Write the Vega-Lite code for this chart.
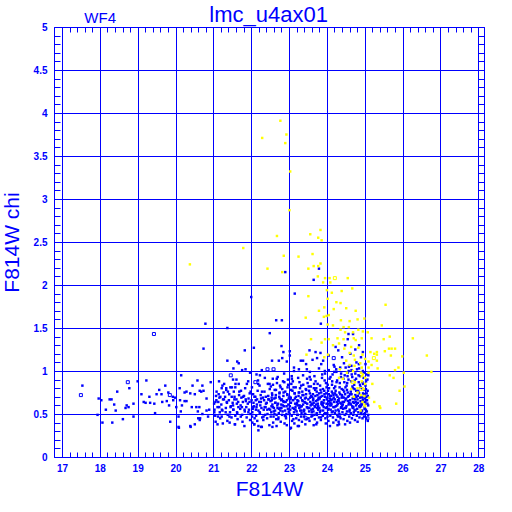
{
"$schema": "https://vega.github.io/schema/vega-lite/v6.json",
"width": 430, "height": 430,
"autosize": {"type": "none"},
"padding": {"left": 54, "top": 27, "right": 28, "bottom": 55},
"background": "white",
"config": {"view": {"stroke": null}},
"datasets": {
"blue": [
{"x":17.54,"y":0.83},{"x":20.79,"y":1.55},{"x":20.74,"y":1.26},{"x":18.78,"y":0.80},{"x":18.46,"y":0.76},{"x":17.97,"y":0.68},{"x":18.04,"y":0.66},{"x":18.26,"y":0.67},{"x":18.31,"y":0.67},{"x":18.16,"y":0.55},{"x":18.38,"y":0.61},{"x":18.42,"y":0.54},{"x":18.71,"y":0.60},{"x":18.76,"y":0.58},{"x":18.68,"y":0.57},{"x":18.89,"y":0.62},{"x":17.94,"y":0.49},{"x":18.07,"y":0.40},{"x":18.33,"y":0.40},{"x":18.61,"y":0.44},{"x":18.89,"y":0.47},{"x":19.00,"y":0.88},{"x":19.23,"y":0.89},{"x":19.10,"y":0.73},{"x":19.31,"y":0.70},{"x":19.16,"y":0.64},{"x":19.21,"y":0.63},{"x":19.33,"y":0.63},{"x":19.44,"y":0.62},{"x":19.50,"y":0.73},{"x":19.63,"y":0.73},{"x":19.57,"y":0.78},{"x":19.73,"y":0.83},{"x":19.81,"y":0.75},{"x":19.77,"y":0.65},{"x":19.65,"y":0.64},{"x":19.83,"y":0.60},{"x":19.46,"y":0.51},{"x":19.86,"y":0.41},{"x":19.93,"y":0.70},{"x":20.15,"y":0.95},{"x":19.94,"y":0.66},
{"x":20.11,"y":0.80},{"x":20.29,"y":0.76},{"x":20.24,"y":0.75},{"x":20.39,"y":0.74},{"x":20.51,"y":0.73},{"x":20.45,"y":0.83},{"x":20.58,"y":0.89},{"x":20.71,"y":0.83},{"x":20.64,"y":0.77},{"x":20.68,"y":0.76},{"x":20.74,"y":0.77},{"x":20.82,"y":0.68},{"x":20.12,"y":0.66},{"x":20.24,"y":0.65},{"x":20.29,"y":0.65},{"x":19.99,"y":0.69},{"x":20.17,"y":0.60},{"x":20.02,"y":0.58},{"x":20.43,"y":0.58},{"x":20.55,"y":0.58},{"x":20.63,"y":0.58},{"x":20.14,"y":0.53},{"x":20.59,"y":0.53},{"x":20.71,"y":0.50},{"x":20.82,"y":0.54},{"x":20.08,"y":0.47},{"x":20.60,"y":0.45},{"x":20.65,"y":0.45},{"x":20.08,"y":0.35},{"x":20.40,"y":0.35},{"x":20.51,"y":0.38},{"x":20.86,"y":0.47},{"x":20.89,"y":0.55},{"x":20.09,"y":0.34},{"x":20.39,"y":0.36},{"x":20.64,"y":0.43},{"x":21.11,"y":0.38},{"x":21.43,"y":0.40},{"x":21.57,"y":0.38},{"x":22.03,"y":0.40},{"x":22.08,"y":0.38},{"x":22.19,"y":0.36},{"x":22.19,"y":0.31},{"x":22.26,"y":0.35},{"x":22.56,"y":0.35},{"x":23.03,"y":0.33},{"x":23.26,"y":0.36},{"x":23.72,"y":0.38},{"x":24.32,"y":0.38},
{"x":21.37,"y":1.50},{"x":22.66,"y":1.59},{"x":22.81,"y":1.59},{"x":23.15,"y":1.90},{"x":22.49,"y":1.44},{"x":21.83,"y":1.24},{"x":22.07,"y":1.27},{"x":22.80,"y":1.29},{"x":22.85,"y":1.22},{"x":23.02,"y":1.23},{"x":23.02,"y":1.18},{"x":21.37,"y":1.12},{"x":21.63,"y":1.11},{"x":21.67,"y":1.09},{"x":21.53,"y":1.03},{"x":21.76,"y":1.01},{"x":21.85,"y":1.02},{"x":22.55,"y":1.12},{"x":22.73,"y":1.12},{"x":22.82,"y":1.15},{"x":22.94,"y":1.11},{"x":23.37,"y":1.12},{"x":23.13,"y":1.04},{"x":23.26,"y":1.02},{"x":22.28,"y":1.01},{"x":21.97,"y":0.98},{"x":22.14,"y":0.96},{"x":22.23,"y":0.95},{"x":20.93,"y":0.87},{"x":21.15,"y":0.88},{"x":21.24,"y":0.83},{"x":21.52,"y":0.90},{"x":21.61,"y":0.90},{"x":21.22,"y":0.80},{"x":21.34,"y":0.80},{"x":21.49,"y":0.81},{"x":21.58,"y":0.81},{"x":22.00,"y":1.86},{"x":22.90,"y":2.15},{"x":23.79,"y":2.19},{"x":23.65,"y":2.06},{"x":23.84,"y":1.55},{"x":24.57,"y":1.43},{"x":24.69,"y":1.43},{"x":24.55,"y":1.37},{"x":23.54,"y":1.24},{"x":23.83,"y":1.21},{"x":24.23,"y":1.28},{"x":24.30,"y":1.24},{"x":23.31,"y":1.12},{"x":23.74,"y":1.15},{"x":23.45,"y":1.08},{"x":23.62,"y":1.13},{"x":23.90,"y":1.12},{"x":24.05,"y":1.18},{"x":24.40,"y":1.16},{"x":24.62,"y":1.20},{"x":24.75,"y":1.25},{"x":24.90,"y":1.16},{"x":25.02,"y":1.08},{"x":24.48,"y":1.30},{"x":24.20,"y":1.05},{"x":23.70,"y":1.22},{"x":24.85,"y":1.30},{"x":24.95,"y":1.22},
{"x":21.02,"y":0.62},{"x":21.05,"y":0.48},{"x":21.07,"y":0.71},{"x":21.03,"y":0.55},{"x":21.08,"y":0.66},{"x":21.06,"y":0.41},
{"x":21.11,"y":0.58},{"x":21.14,"y":0.73},{"x":21.17,"y":0.52},{"x":21.13,"y":0.64},{"x":21.18,"y":0.45},{"x":21.16,"y":0.69},
{"x":21.21,"y":0.61},{"x":21.24,"y":0.54},{"x":21.27,"y":0.75},{"x":21.22,"y":0.47},{"x":21.28,"y":0.67},{"x":21.25,"y":0.39},
{"x":21.31,"y":0.70},{"x":21.33,"y":0.57},{"x":21.36,"y":0.63},{"x":21.38,"y":0.49},{"x":21.34,"y":0.78},{"x":21.37,"y":0.42},
{"x":21.41,"y":0.66},{"x":21.44,"y":0.52},{"x":21.46,"y":0.59},{"x":21.42,"y":0.73},{"x":21.48,"y":0.46},{"x":21.45,"y":0.81},
{"x":21.51,"y":0.63},{"x":21.53,"y":0.55},{"x":21.56,"y":0.70},{"x":21.58,"y":0.48},{"x":21.54,"y":0.76},{"x":21.57,"y":0.38},{"x":21.52,"y":0.60},
{"x":21.61,"y":0.67},{"x":21.63,"y":0.51},{"x":21.66,"y":0.58},{"x":21.68,"y":0.72},{"x":21.64,"y":0.44},{"x":21.67,"y":0.85},{"x":21.62,"y":0.62},
{"x":21.71,"y":0.56},{"x":21.74,"y":0.69},{"x":21.76,"y":0.49},{"x":21.78,"y":0.64},{"x":21.73,"y":0.77},{"x":21.77,"y":0.41},{"x":21.72,"y":0.60},
{"x":21.81,"y":0.71},{"x":21.83,"y":0.53},{"x":21.86,"y":0.65},{"x":21.88,"y":0.46},{"x":21.84,"y":0.80},{"x":21.87,"y":0.58},{"x":21.82,"y":0.36},
{"x":21.91,"y":0.62},{"x":21.94,"y":0.55},{"x":21.96,"y":0.74},{"x":21.98,"y":0.50},{"x":21.93,"y":0.68},{"x":21.97,"y":0.43},{"x":21.92,"y":0.88},
{"x":22.01,"y":0.66},{"x":22.03,"y":0.52},{"x":22.05,"y":0.73},{"x":22.07,"y":0.59},{"x":22.09,"y":0.45},{"x":22.02,"y":0.81},{"x":22.06,"y":0.63},{"x":22.08,"y":0.38},{"x":22.04,"y":0.56},
{"x":22.11,"y":0.70},{"x":22.13,"y":0.48},{"x":22.15,"y":0.61},{"x":22.17,"y":0.77},{"x":22.19,"y":0.54},{"x":22.12,"y":0.66},{"x":22.16,"y":0.42},{"x":22.18,"y":0.89},{"x":22.14,"y":0.58},
{"x":22.21,"y":0.64},{"x":22.23,"y":0.51},{"x":22.25,"y":0.72},{"x":22.27,"y":0.57},{"x":22.29,"y":0.46},{"x":22.22,"y":0.83},{"x":22.26,"y":0.68},{"x":22.28,"y":0.35},{"x":22.24,"y":0.60},
{"x":22.31,"y":0.69},{"x":22.33,"y":0.55},{"x":22.35,"y":0.76},{"x":22.37,"y":0.49},{"x":22.39,"y":0.62},{"x":22.32,"y":0.43},{"x":22.36,"y":0.92},{"x":22.38,"y":0.58},{"x":22.34,"y":0.66},
{"x":22.41,"y":0.63},{"x":22.43,"y":0.50},{"x":22.45,"y":0.71},{"x":22.47,"y":0.56},{"x":22.49,"y":0.79},{"x":22.42,"y":0.45},{"x":22.46,"y":0.67},{"x":22.48,"y":0.37},{"x":22.44,"y":0.85},
{"x":22.51,"y":0.65},{"x":22.53,"y":0.52},{"x":22.55,"y":0.74},{"x":22.57,"y":0.58},{"x":22.59,"y":0.47},{"x":22.52,"y":0.82},{"x":22.56,"y":0.61},{"x":22.58,"y":0.40},{"x":22.54,"y":0.69},{"x":22.50,"y":0.55},{"x":22.57,"y":0.91},
{"x":22.61,"y":0.68},{"x":22.63,"y":0.54},{"x":22.65,"y":0.72},{"x":22.67,"y":0.49},{"x":22.69,"y":0.60},{"x":22.62,"y":0.78},{"x":22.66,"y":0.44},{"x":22.68,"y":0.86},{"x":22.64,"y":0.63},{"x":22.60,"y":0.57},{"x":22.67,"y":0.36},
{"x":22.71,"y":0.62},{"x":22.73,"y":0.51},{"x":22.75,"y":0.75},{"x":22.77,"y":0.57},{"x":22.79,"y":0.66},{"x":22.72,"y":0.46},{"x":22.76,"y":0.83},{"x":22.78,"y":0.41},{"x":22.74,"y":0.70},{"x":22.70,"y":0.93},{"x":22.77,"y":0.54},
{"x":22.81,"y":0.67},{"x":22.83,"y":0.53},{"x":22.85,"y":0.71},{"x":22.87,"y":0.59},{"x":22.89,"y":0.48},{"x":22.82,"y":0.79},{"x":22.86,"y":0.64},{"x":22.88,"y":0.39},{"x":22.84,"y":0.88},{"x":22.80,"y":0.57},{"x":22.87,"y":0.97},
{"x":22.91,"y":0.64},{"x":22.93,"y":0.50},{"x":22.95,"y":0.73},{"x":22.97,"y":0.56},{"x":22.99,"y":0.68},{"x":22.92,"y":0.45},{"x":22.96,"y":0.81},{"x":22.98,"y":0.61},{"x":22.94,"y":0.37},{"x":22.90,"y":0.76},{"x":22.97,"y":0.90},
{"x":23.01,"y":0.70},{"x":23.03,"y":0.55},{"x":23.05,"y":0.63},{"x":23.07,"y":0.48},{"x":23.09,"y":0.77},{"x":23.02,"y":0.59},{"x":23.06,"y":0.85},{"x":23.08,"y":0.42},{"x":23.04,"y":0.67},{"x":23.00,"y":0.52},{"x":23.07,"y":0.94},{"x":23.05,"y":0.34},
{"x":23.11,"y":0.66},{"x":23.13,"y":0.52},{"x":23.15,"y":0.74},{"x":23.17,"y":0.58},{"x":23.19,"y":0.45},{"x":23.12,"y":0.81},{"x":23.16,"y":0.62},{"x":23.18,"y":0.70},{"x":23.14,"y":0.39},{"x":23.10,"y":0.88},{"x":23.17,"y":0.55},{"x":23.13,"y":1.00},
{"x":23.21,"y":0.63},{"x":23.23,"y":0.49},{"x":23.25,"y":0.71},{"x":23.27,"y":0.57},{"x":23.29,"y":0.80},{"x":23.22,"y":0.66},{"x":23.26,"y":0.43},{"x":23.28,"y":0.60},{"x":23.24,"y":0.92},{"x":23.20,"y":0.53},{"x":23.27,"y":0.75},{"x":23.23,"y":0.36},
{"x":23.31,"y":0.69},{"x":23.33,"y":0.54},{"x":23.35,"y":0.76},{"x":23.37,"y":0.61},{"x":23.39,"y":0.47},{"x":23.32,"y":0.83},{"x":23.36,"y":0.65},{"x":23.38,"y":0.72},{"x":23.34,"y":0.41},{"x":23.30,"y":0.58},{"x":23.37,"y":0.95},{"x":23.33,"y":0.51},
{"x":23.41,"y":0.64},{"x":23.43,"y":0.50},{"x":23.45,"y":0.73},{"x":23.47,"y":0.58},{"x":23.49,"y":0.86},{"x":23.42,"y":0.68},{"x":23.46,"y":0.44},{"x":23.48,"y":0.62},{"x":23.44,"y":0.79},{"x":23.40,"y":0.55},{"x":23.47,"y":1.02},{"x":23.43,"y":0.38},
{"x":23.51,"y":0.67},{"x":23.53,"y":0.53},{"x":23.55,"y":0.74},{"x":23.57,"y":0.60},{"x":23.59,"y":0.47},{"x":23.52,"y":0.82},{"x":23.56,"y":0.64},{"x":23.58,"y":0.71},{"x":23.54,"y":0.42},{"x":23.50,"y":0.57},{"x":23.57,"y":0.90},{"x":23.53,"y":0.77},{"x":23.59,"y":0.55},{"x":23.55,"y":0.99},
{"x":23.61,"y":0.70},{"x":23.63,"y":0.56},{"x":23.65,"y":0.63},{"x":23.67,"y":0.49},{"x":23.69,"y":0.78},{"x":23.62,"y":0.61},{"x":23.66,"y":0.85},{"x":23.68,"y":0.44},{"x":23.64,"y":0.68},{"x":23.60,"y":0.52},{"x":23.67,"y":0.94},{"x":23.63,"y":0.73},{"x":23.69,"y":0.58},{"x":23.65,"y":0.37},
{"x":23.71,"y":0.65},{"x":23.73,"y":0.51},{"x":23.75,"y":0.72},{"x":23.77,"y":0.59},{"x":23.79,"y":0.46},{"x":23.72,"y":0.80},{"x":23.76,"y":0.62},{"x":23.78,"y":0.69},{"x":23.74,"y":0.40},{"x":23.70,"y":0.88},{"x":23.77,"y":0.55},{"x":23.73,"y":0.76},{"x":23.79,"y":1.03},{"x":23.75,"y":0.66},
{"x":23.81,"y":0.68},{"x":23.83,"y":0.54},{"x":23.85,"y":0.75},{"x":23.87,"y":0.61},{"x":23.89,"y":0.48},{"x":23.82,"y":0.83},{"x":23.86,"y":0.64},{"x":23.88,"y":0.71},{"x":23.84,"y":0.43},{"x":23.80,"y":0.57},{"x":23.87,"y":0.92},{"x":23.83,"y":0.78},{"x":23.89,"y":0.60},{"x":23.85,"y":1.08},
{"x":23.91,"y":0.63},{"x":23.93,"y":0.50},{"x":23.95,"y":0.70},{"x":23.97,"y":0.57},{"x":23.99,"y":0.81},{"x":23.92,"y":0.66},{"x":23.96,"y":0.45},{"x":23.98,"y":0.74},{"x":23.94,"y":0.89},{"x":23.90,"y":0.54},{"x":23.97,"y":0.39},{"x":23.93,"y":0.77},{"x":23.99,"y":0.62},{"x":23.95,"y":0.97},
{"x":24.01,"y":0.69},{"x":24.03,"y":0.55},{"x":24.05,"y":0.73},{"x":24.07,"y":0.60},{"x":24.09,"y":0.48},{"x":24.02,"y":0.84},{"x":24.06,"y":0.65},{"x":24.08,"y":0.71},{"x":24.04,"y":0.42},{"x":24.00,"y":0.58},{"x":24.07,"y":0.91},{"x":24.03,"y":0.77},{"x":24.09,"y":0.63},{"x":24.05,"y":1.01},{"x":24.01,"y":0.51},{"x":24.08,"y":0.36},
{"x":24.11,"y":0.66},{"x":24.13,"y":0.52},{"x":24.15,"y":0.74},{"x":24.17,"y":0.58},{"x":24.19,"y":0.80},{"x":24.12,"y":0.62},{"x":24.16,"y":0.46},{"x":24.18,"y":0.69},{"x":24.14,"y":0.88},{"x":24.10,"y":0.55},{"x":24.17,"y":0.40},{"x":24.13,"y":0.76},{"x":24.19,"y":0.64},{"x":24.15,"y":0.96},{"x":24.11,"y":0.71},{"x":24.18,"y":1.07},
{"x":24.21,"y":0.67},{"x":24.23,"y":0.54},{"x":24.25,"y":0.72},{"x":24.27,"y":0.60},{"x":24.29,"y":0.47},{"x":24.22,"y":0.82},{"x":24.26,"y":0.64},{"x":24.28,"y":0.70},{"x":24.24,"y":0.43},{"x":24.20,"y":0.58},{"x":24.27,"y":0.89},{"x":24.23,"y":0.77},{"x":24.29,"y":0.62},{"x":24.25,"y":0.99},{"x":24.21,"y":0.51},{"x":24.28,"y":0.37},
{"x":24.31,"y":0.65},{"x":24.33,"y":0.50},{"x":24.35,"y":0.73},{"x":24.37,"y":0.57},{"x":24.39,"y":0.79},{"x":24.32,"y":0.68},{"x":24.36,"y":0.45},{"x":24.38,"y":0.62},{"x":24.34,"y":0.86},{"x":24.30,"y":0.55},{"x":24.37,"y":0.93},{"x":24.33,"y":0.75},{"x":24.39,"y":0.69},{"x":24.35,"y":1.04},{"x":24.31,"y":0.41},{"x":24.38,"y":0.58},
{"x":24.41,"y":0.70},{"x":24.43,"y":0.56},{"x":24.45,"y":0.64},{"x":24.47,"y":0.49},{"x":24.49,"y":0.81},{"x":24.42,"y":0.61},{"x":24.46,"y":0.87},{"x":24.48,"y":0.73},{"x":24.44,"y":0.44},{"x":24.40,"y":0.59},{"x":24.47,"y":0.95},{"x":24.43,"y":0.78},{"x":24.49,"y":0.66},{"x":24.45,"y":1.09},{"x":24.41,"y":0.52},{"x":24.48,"y":0.38},
{"x":24.51,"y":0.68},{"x":24.53,"y":0.53},{"x":24.55,"y":0.75},{"x":24.57,"y":0.61},{"x":24.59,"y":0.47},{"x":24.52,"y":0.83},{"x":24.56,"y":0.65},{"x":24.58,"y":0.71},{"x":24.54,"y":0.42},{"x":24.50,"y":0.57},{"x":24.57,"y":0.90},{"x":24.53,"y":0.78},{"x":24.59,"y":0.63},{"x":24.55,"y":0.98},{"x":24.51,"y":0.50},{"x":24.58,"y":1.05},
{"x":24.61,"y":0.66},{"x":24.63,"y":0.51},{"x":24.65,"y":0.73},{"x":24.67,"y":0.59},{"x":24.69,"y":0.80},{"x":24.62,"y":0.62},{"x":24.66,"y":0.45},{"x":24.68,"y":0.68},{"x":24.64,"y":0.88},{"x":24.60,"y":0.55},{"x":24.67,"y":0.93},{"x":24.63,"y":0.76},{"x":24.69,"y":0.64},{"x":24.65,"y":1.01},{"x":24.61,"y":0.40},{"x":24.68,"y":0.57},
{"x":24.71,"y":0.69},{"x":24.73,"y":0.55},{"x":24.75,"y":0.72},{"x":24.77,"y":0.60},{"x":24.79,"y":0.48},{"x":24.72,"y":0.84},{"x":24.76,"y":0.64},{"x":24.78,"y":0.70},{"x":24.74,"y":0.43},{"x":24.70,"y":0.58},{"x":24.77,"y":0.91},{"x":24.73,"y":0.79},{"x":24.79,"y":0.62},{"x":24.75,"y":0.97},{"x":24.71,"y":0.52},{"x":24.78,"y":1.10},
{"x":24.81,"y":0.67},{"x":24.83,"y":0.52},{"x":24.85,"y":0.74},{"x":24.87,"y":0.58},{"x":24.89,"y":0.81},{"x":24.82,"y":0.63},{"x":24.86,"y":0.46},{"x":24.88,"y":0.69},{"x":24.84,"y":0.87},{"x":24.80,"y":0.56},{"x":24.87,"y":0.94},{"x":24.83,"y":0.77},{"x":24.89,"y":0.65},{"x":24.85,"y":1.03},{"x":24.81,"y":0.41},{"x":24.88,"y":0.60},
{"x":24.91,"y":0.70},{"x":24.93,"y":0.54},{"x":24.95,"y":0.66},{"x":24.97,"y":0.50},{"x":24.99,"y":0.78},{"x":24.92,"y":0.61},{"x":24.96,"y":0.85},{"x":24.98,"y":0.73},{"x":24.94,"y":0.45},{"x":24.90,"y":0.59},{"x":24.97,"y":0.92},{"x":24.93,"y":0.80},{"x":24.99,"y":0.64},{"x":24.95,"y":1.00},{"x":24.91,"y":0.52},{"x":24.98,"y":0.47},
{"x":25.01,"y":0.68},{"x":25.03,"y":0.55},{"x":25.05,"y":0.74},{"x":25.07,"y":0.62},{"x":25.09,"y":0.49},{"x":25.02,"y":0.83},{"x":25.06,"y":0.66},{"x":25.08,"y":0.71},{"x":25.04,"y":0.45},{"x":25.00,"y":0.58},{"x":25.07,"y":0.90},{"x":25.03,"y":0.79},{"x":25.09,"y":0.60},{"x":25.05,"y":0.96},{"x":25.01,"y":0.51},{"x":25.08,"y":0.42},
{"x":22.515,"y":0.47},{"x":22.535,"y":0.59},{"x":22.555,"y":0.72},{"x":22.575,"y":0.84},{"x":22.595,"y":0.53},{"x":22.545,"y":0.66},
{"x":22.615,"y":0.50},{"x":22.635,"y":0.63},{"x":22.655,"y":0.78},{"x":22.675,"y":0.91},{"x":22.695,"y":0.57},{"x":22.645,"y":0.69},
{"x":22.715,"y":0.44},{"x":22.735,"y":0.56},{"x":22.755,"y":0.68},{"x":22.775,"y":0.81},{"x":22.795,"y":0.61},{"x":22.745,"y":0.74},
{"x":22.815,"y":0.49},{"x":22.835,"y":0.60},{"x":22.855,"y":0.75},{"x":22.875,"y":0.87},{"x":22.895,"y":0.54},{"x":22.845,"y":0.65},
{"x":22.915,"y":0.47},{"x":22.935,"y":0.59},{"x":22.955,"y":0.72},{"x":22.975,"y":0.84},{"x":22.995,"y":0.53},{"x":22.945,"y":0.66},
{"x":23.015,"y":0.50},{"x":23.035,"y":0.63},{"x":23.055,"y":0.78},{"x":23.075,"y":0.91},{"x":23.095,"y":0.57},{"x":23.045,"y":0.69},
{"x":23.115,"y":0.44},{"x":23.135,"y":0.56},{"x":23.155,"y":0.68},{"x":23.175,"y":0.81},{"x":23.195,"y":0.61},{"x":23.145,"y":0.74},
{"x":23.215,"y":0.49},{"x":23.235,"y":0.60},{"x":23.255,"y":0.75},{"x":23.275,"y":0.87},{"x":23.295,"y":0.54},{"x":23.245,"y":0.65},
{"x":23.315,"y":0.47},{"x":23.335,"y":0.59},{"x":23.355,"y":0.72},{"x":23.375,"y":0.84},{"x":23.395,"y":0.53},{"x":23.345,"y":0.66},
{"x":23.415,"y":0.50},{"x":23.435,"y":0.63},{"x":23.455,"y":0.78},{"x":23.475,"y":0.91},{"x":23.495,"y":0.57},{"x":23.445,"y":0.69},
{"x":23.515,"y":0.45},{"x":23.535,"y":0.57},{"x":23.555,"y":0.69},{"x":23.575,"y":0.82},{"x":23.595,"y":0.62},{"x":23.545,"y":0.93},
{"x":23.615,"y":0.48},{"x":23.635,"y":0.66},{"x":23.655,"y":0.80},{"x":23.675,"y":0.59},{"x":23.695,"y":0.71},{"x":23.645,"y":0.53},
{"x":23.715,"y":0.61},{"x":23.735,"y":0.49},{"x":23.755,"y":0.85},{"x":23.775,"y":0.67},{"x":23.795,"y":0.74},{"x":23.745,"y":0.57},
{"x":23.815,"y":0.52},{"x":23.835,"y":0.70},{"x":23.855,"y":0.62},{"x":23.875,"y":0.96},{"x":23.895,"y":0.79},{"x":23.845,"y":0.46},
{"x":23.915,"y":0.58},{"x":23.935,"y":0.73},{"x":23.955,"y":0.51},{"x":23.975,"y":0.86},{"x":23.995,"y":0.67},{"x":23.945,"y":1.00},
{"x":24.015,"y":0.47},{"x":24.035,"y":0.62},{"x":24.055,"y":0.80},{"x":24.075,"y":0.68},{"x":24.095,"y":0.93},{"x":24.045,"y":0.56},
{"x":24.115,"y":0.60},{"x":24.135,"y":0.84},{"x":24.155,"y":0.53},{"x":24.175,"y":0.72},{"x":24.195,"y":0.99},{"x":24.145,"y":0.67},
{"x":24.215,"y":0.74},{"x":24.235,"y":0.59},{"x":24.255,"y":0.87},{"x":24.275,"y":0.49},{"x":24.295,"y":0.66},{"x":24.245,"y":1.02},
{"x":24.315,"y":0.53},{"x":24.335,"y":0.81},{"x":24.355,"y":0.63},{"x":24.375,"y":0.97},{"x":24.395,"y":0.72},{"x":24.345,"y":0.47},
{"x":24.415,"y":0.64},{"x":24.435,"y":0.91},{"x":24.455,"y":0.76},{"x":24.475,"y":0.57},{"x":24.495,"y":1.04},{"x":24.445,"y":0.69},
{"x":24.515,"y":0.59},{"x":24.535,"y":0.86},{"x":24.555,"y":0.70},{"x":24.575,"y":1.00},{"x":24.595,"y":0.53},{"x":24.545,"y":0.94},
{"x":24.615,"y":0.73},{"x":24.635,"y":0.61},{"x":24.655,"y":0.96},{"x":24.675,"y":0.82},{"x":24.695,"y":0.49},{"x":24.645,"y":1.06},
{"x":24.715,"y":0.63},{"x":24.735,"y":0.89},{"x":24.755,"y":0.54},{"x":24.775,"y":0.77},{"x":24.795,"y":1.02},{"x":24.745,"y":0.67},
{"x":24.815,"y":0.71},{"x":24.835,"y":0.95},{"x":24.855,"y":0.59},{"x":24.875,"y":0.84},{"x":24.895,"y":0.50},{"x":24.845,"y":1.08},
{"x":24.915,"y":0.62},{"x":24.935,"y":0.87},{"x":24.955,"y":0.74},{"x":24.975,"y":0.98},{"x":24.995,"y":0.56},{"x":24.945,"y":0.69},
{"x":25.015,"y":0.64},{"x":25.035,"y":0.88},{"x":25.055,"y":0.53},{"x":25.075,"y":0.77},{"x":25.095,"y":0.95},{"x":25.045,"y":0.70},
{"x":21.025,"y":0.52},{"x":21.055,"y":0.64},{"x":21.085,"y":0.76},{"x":21.125,"y":0.47},{"x":21.155,"y":0.58},{"x":21.185,"y":0.70},{"x":21.225,"y":0.55},{"x":21.255,"y":0.67},{"x":21.285,"y":0.85},{"x":21.325,"y":0.52},{"x":21.355,"y":0.64},{"x":21.385,"y":0.76},{"x":21.425,"y":0.47},{"x":21.455,"y":0.58},{"x":21.485,"y":0.70},{"x":21.525,"y":0.55},{"x":21.555,"y":0.67},{"x":21.585,"y":0.85},{"x":21.625,"y":0.52},{"x":21.655,"y":0.64},{"x":21.685,"y":0.76},{"x":21.725,"y":0.47},{"x":21.755,"y":0.58},{"x":21.785,"y":0.70},{"x":21.825,"y":0.55},{"x":21.855,"y":0.67},{"x":21.885,"y":0.85},{"x":21.925,"y":0.52},{"x":21.955,"y":0.64},{"x":21.985,"y":0.76},{"x":22.025,"y":0.47},{"x":22.055,"y":0.58},{"x":22.085,"y":0.70},{"x":22.125,"y":0.55},{"x":22.155,"y":0.67},{"x":22.185,"y":0.85},{"x":22.225,"y":0.52},{"x":22.255,"y":0.64},{"x":22.285,"y":0.76},{"x":22.325,"y":0.47},{"x":22.355,"y":0.58},{"x":22.385,"y":0.70},{"x":22.425,"y":0.55},{"x":22.455,"y":0.67},{"x":22.485,"y":0.85}
],
"hblue": [
{"x":17.50,"y":0.72},{"x":19.43,"y":1.43},{"x":18.74,"y":0.87},{"x":19.85,"y":0.72},{"x":21.46,"y":0.95},{"x":22.43,"y":1.02},{"x":22.59,"y":1.02},{"x":24.18,"y":1.15},{"x":22.11,"y":0.87},{"x":25.07,"y":0.45},{"x":23.44,"y":0.45}
],
"yellow": [
{"x":22.77,"y":3.91},{"x":22.29,"y":3.71},{"x":22.93,"y":3.75},{"x":22.90,"y":3.65},{"x":23.03,"y":3.32},{"x":23.01,"y":2.87},{"x":22.68,"y":2.57},{"x":23.56,"y":2.59},{"x":23.83,"y":2.64},{"x":23.77,"y":2.55},{"x":23.86,"y":2.52},{"x":22.86,"y":2.34},{"x":23.25,"y":2.33},{"x":23.62,"y":2.36},{"x":22.43,"y":2.19},{"x":22.82,"y":2.15},{"x":23.51,"y":2.19},{"x":23.65,"y":2.22},{"x":23.77,"y":2.22},{"x":23.83,"y":2.25},{"x":23.76,"y":2.10},{"x":23.95,"y":2.08},{"x":24.07,"y":2.08},{"x":24.55,"y":2.08},{"x":23.90,"y":2.03},{"x":24.09,"y":2.03},{"x":24.00,"y":1.94},{"x":24.13,"y":1.91},{"x":24.39,"y":1.93},{"x":24.67,"y":1.96},{"x":23.51,"y":1.87},{"x":24.02,"y":1.84},{"x":24.25,"y":1.80},{"x":24.36,"y":1.79},{"x":24.18,"y":1.72},{"x":23.93,"y":1.74},{"x":23.79,"y":1.70},{"x":24.51,"y":1.73},{"x":24.76,"y":1.70},{"x":25.55,"y":1.77},{"x":23.44,"y":1.62},{"x":23.92,"y":1.63},{"x":23.99,"y":1.64},{"x":24.05,"y":1.65},{"x":24.37,"y":1.59},{"x":24.60,"y":1.58},{"x":24.81,"y":1.60},{"x":24.99,"y":1.61},{"x":25.45,"y":1.53},{"x":24.02,"y":1.54},{"x":24.16,"y":1.53},{"x":24.44,"y":1.51},{"x":24.58,"y":1.51},{"x":24.36,"y":1.48},{"x":24.48,"y":1.45},{"x":24.69,"y":1.45},{"x":24.83,"y":1.48},{"x":24.95,"y":1.46},{"x":25.08,"y":1.45},{"x":25.66,"y":1.40},{"x":25.50,"y":1.37},{"x":23.58,"y":1.37},{"x":23.95,"y":1.37},{"x":24.05,"y":1.37},{"x":24.28,"y":1.38},{"x":24.44,"y":1.37},{"x":24.71,"y":1.38},{"x":24.76,"y":1.36},{"x":24.92,"y":1.38},{"x":25.18,"y":1.38},{"x":26.27,"y":1.38},{"x":23.86,"y":1.33},{"x":24.16,"y":1.30},{"x":24.32,"y":1.32},{"x":24.46,"y":1.26},{"x":24.64,"y":1.28},{"x":24.83,"y":1.27},{"x":25.15,"y":1.22},{"x":25.32,"y":1.22},{"x":25.25,"y":1.20},{"x":25.32,"y":1.19},{"x":25.53,"y":1.23},{"x":25.64,"y":1.26},{"x":25.71,"y":1.26},{"x":25.80,"y":1.26},{"x":25.69,"y":1.18},{"x":23.46,"y":1.19},{"x":23.93,"y":1.16},{"x":24.03,"y":1.19},{"x":24.60,"y":1.21},{"x":24.71,"y":1.18},{"x":24.94,"y":1.19},{"x":25.01,"y":1.14},{"x":25.32,"y":1.12},{"x":25.10,"y":1.11},{"x":25.18,"y":1.07},{"x":25.99,"y":1.17},{"x":24.51,"y":1.12},{"x":24.74,"y":1.13},{"x":24.60,"y":1.07},{"x":24.73,"y":1.06},{"x":24.88,"y":1.09},{"x":24.92,"y":1.04},{"x":25.34,"y":1.03},{"x":25.10,"y":1.04},{"x":24.34,"y":1.02},{"x":24.53,"y":0.98},{"x":24.69,"y":1.00},{"x":24.90,"y":0.98},{"x":24.95,"y":0.96},{"x":25.10,"y":0.98},{"x":25.80,"y":1.01},{"x":25.89,"y":1.04},{"x":26.03,"y":0.98},{"x":25.66,"y":0.95},{"x":25.76,"y":0.92},{"x":24.92,"y":0.94},{"x":25.01,"y":0.92},{"x":24.32,"y":0.92},{"x":24.42,"y":0.91},{"x":24.74,"y":0.87},{"x":24.92,"y":0.88},{"x":25.01,"y":0.85},{"x":25.20,"y":0.85},{"x":25.92,"y":0.77},{"x":26.05,"y":0.82},{"x":24.64,"y":0.79},{"x":24.81,"y":0.80},{"x":24.97,"y":0.79},{"x":24.90,"y":0.72},{"x":24.99,"y":0.71},{"x":25.11,"y":0.69},{"x":25.25,"y":0.64},{"x":25.39,"y":0.59},{"x":25.41,"y":0.57},{"x":25.83,"y":0.62},{"x":24.94,"y":0.64},{"x":24.99,"y":0.61},{"x":25.01,"y":0.59},{"x":24.89,"y":0.54},{"x":24.81,"y":0.75},{"x":24.71,"y":0.70},{"x":26.64,"y":1.18},{"x":26.76,"y":0.99},{"x":20.38,"y":2.24},{"x":21.79,"y":2.43}
],
"hyellow": [
{"x":24.21,"y":2.08},{"x":25.24,"y":1.15},{"x":24.68,"y":0.87},{"x":24.91,"y":0.79}
],
"labels": [
{"x":18.01,"y":5.047,"t":"WF4","s":15},{"x":22.46,"y":5.062,"t":"lmc_u4ax01","s":22}
]
},
"layer": [
{
"data": {"name": "blue"},
"mark": {"type": "square", "size": 6, "color": "#0000ff", "opacity": 1},
"encoding": {
"x": {"field": "x", "type": "quantitative", "scale": {"domain": [16.79, 28.15], "nice": false, "zero": false},
 "axis": {"orient": "bottom",
  "values": [17,17.2,17.4,17.6,17.8,18,18.2,18.4,18.6,18.8,19,19.2,19.4,19.6,19.8,20,20.2,20.4,20.6,20.8,21,21.2,21.4,21.6,21.8,22,22.2,22.4,22.6,22.8,23,23.2,23.4,23.6,23.8,24,24.2,24.4,24.6,24.8,25,25.2,25.4,25.6,25.8,26,26.2,26.4,26.6,26.8,27,27.2,27.4,27.6,27.8,28],
  "labelExpr": "round(datum.value*10) % 10 == 0 ? format(datum.value, '~g') : ''",
  "grid": true, "gridColor": "#0000ff", "gridWidth": 1,
  "gridOpacity": {"condition": {"test": "round(datum.value*10) % 10 == 0", "value": 1}, "value": 0},
  "tickSize": -5, "tickColor": "#0000ff", "tickWidth": 1,
  "domainColor": "#0000ff", "domainWidth": 1,
  "labelPadding": 11, "labelFont": "Liberation Sans", "labelFontWeight": "bold", "labelFontSize": 10, "labelColor": "#0000ff",
  "labelOverlap": false, "labelFlush": false, "labelBound": false,
  "title": "F814W", "titleFont": "Liberation Sans", "titleFontSize": 21, "titleFontWeight": "normal", "titleColor": "#0000ff", "titlePadding": 5}},
"y": {"field": "y", "type": "quantitative", "scale": {"domain": [0, 5], "nice": false, "zero": false},
 "axis": {"orient": "left",
  "values": [0,0.1,0.2,0.3,0.4,0.5,0.6,0.7,0.8,0.9,1,1.1,1.2,1.3,1.4,1.5,1.6,1.7,1.8,1.9,2,2.1,2.2,2.3,2.4,2.5,2.6,2.7,2.8,2.9,3,3.1,3.2,3.3,3.4,3.5,3.6,3.7,3.8,3.9,4,4.1,4.2,4.3,4.4,4.5,4.6,4.7,4.8,4.9,5],
  "labelExpr": "round(datum.value*10) % 5 == 0 ? format(datum.value, '~g') : ''",
  "grid": true, "gridColor": "#0000ff", "gridWidth": 1,
  "gridOpacity": {"condition": {"test": "round(datum.value*10) % 5 == 0", "value": 1}, "value": 0},
  "tickSize": -6, "tickColor": "#0000ff", "tickWidth": 1,
  "domainColor": "#0000ff", "domainWidth": 1,
  "labelPadding": 13, "labelFont": "Liberation Sans", "labelFontWeight": "bold", "labelFontSize": 10, "labelColor": "#0000ff",
  "labelOverlap": false, "labelFlush": false, "labelBound": false,
  "title": "F814W chi", "titleFont": "Liberation Sans", "titleFontSize": 21, "titleFontWeight": "normal", "titleColor": "#0000ff", "titlePadding": 11}}
}
},
{
"data": {"name": "hblue"},
"mark": {"type": "square", "size": 9, "filled": false, "color": "#0000ff", "strokeWidth": 1, "opacity": 1},
"encoding": {
"x": {"field": "x", "type": "quantitative", "axis": {"orient": "top",
  "values": [17,17.2,17.4,17.6,17.8,18,18.2,18.4,18.6,18.8,19,19.2,19.4,19.6,19.8,20,20.2,20.4,20.6,20.8,21,21.2,21.4,21.6,21.8,22,22.2,22.4,22.6,22.8,23,23.2,23.4,23.6,23.8,24,24.2,24.4,24.6,24.8,25,25.2,25.4,25.6,25.8,26,26.2,26.4,26.6,26.8,27,27.2,27.4,27.6,27.8,28],
  "labels": false, "grid": false, "tickSize": -5, "tickColor": "#0000ff", "tickWidth": 1, "domainColor": "#0000ff", "domainWidth": 1, "title": null}},
"y": {"field": "y", "type": "quantitative", "axis": {"orient": "right",
  "values": [0,0.1,0.2,0.3,0.4,0.5,0.6,0.7,0.8,0.9,1,1.1,1.2,1.3,1.4,1.5,1.6,1.7,1.8,1.9,2,2.1,2.2,2.3,2.4,2.5,2.6,2.7,2.8,2.9,3,3.1,3.2,3.3,3.4,3.5,3.6,3.7,3.8,3.9,4,4.1,4.2,4.3,4.4,4.5,4.6,4.7,4.8,4.9,5],
  "labels": false, "grid": false, "tickSize": -6, "tickColor": "#0000ff", "tickWidth": 1, "domainColor": "#0000ff", "domainWidth": 1, "title": null}}
}
},
{
"data": {"name": "yellow"},
"mark": {"type": "square", "size": 6, "color": "#ffff00", "opacity": 1},
"encoding": {
"x": {"field": "x", "type": "quantitative", "axis": null},
"y": {"field": "y", "type": "quantitative", "axis": null}
}
},
{
"data": {"name": "hyellow"},
"mark": {"type": "square", "size": 9, "filled": false, "color": "#ffff00", "strokeWidth": 1, "opacity": 1},
"encoding": {
"x": {"field": "x", "type": "quantitative", "axis": null},
"y": {"field": "y", "type": "quantitative", "axis": null}
}
},
{
"data": {"name": "labels"},
"mark": {"type": "text", "font": "Liberation Sans", "color": "#0000ff", "align": "center", "baseline": "alphabetic"},
"encoding": {
"x": {"field": "x", "type": "quantitative", "axis": null},
"y": {"field": "y", "type": "quantitative", "axis": null},
"text": {"field": "t"},
"size": {"field": "s", "type": "quantitative", "scale": null}
}
}
],
"resolve": {"axis": {"x": "independent", "y": "independent"}}
}
